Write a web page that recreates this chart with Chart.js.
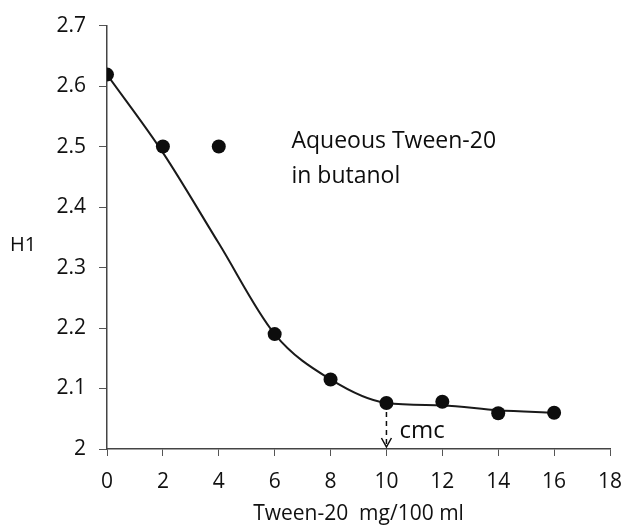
<!DOCTYPE html>
<html>
<head>
<meta charset="utf-8">
<script src="https://cdn.jsdelivr.net/npm/chart.js@4.4.0/dist/chart.umd.min.js"></script>
<style>
  html, body { margin: 0; padding: 0; background: #fff; }
  #wrap { width: 625px; height: 527px; }
</style>
</head>
<body>
<div id="wrap"><canvas id="chart" width="625" height="527"></canvas></div>
<script>
// measured points (H1 vs Tween-20 concentration)
const concentrations = [0, 2, 4, 6, 8, 10, 12, 14, 16];
const h1Values = [2.619, 2.5, 2.5, 2.19, 2.115, 2.076, 2.078, 2.059, 2.06];

// hand-drawn trend curve
const curveX = [0, 2, 4, 6, 8, 10, 12, 14, 16];
const curveY = [2.619, 2.49, 2.34, 2.19, 2.115, 2.076, 2.072, 2.064, 2.06];

const xTickLabels = ['0', '2', '4', '6', '8', '10', '12', '14', '16', '18'];
const yTickLabels = ['2', '2.1', '2.2', '2.3', '2.4', '2.5', '2.6', '2.7'];

const cmcAt = 10;
const noteLines = ['Aqueous Tween-20', 'in butanol'];

const FONT = "'Open Sans', sans-serif";
const INK = '#0d0d0d';

function toXY(xs, ys) {
    return xs.map((x, i) => ({ x: x, y: ys[i] }));
}

// extra text + cmc arrow
const extrasPlugin = {
    id: 'extras',
    afterDraw(chart) {
        const ctx = chart.ctx;
        const xs = chart.scales.x;
        const ys = chart.scales.y;
        const area = chart.chartArea;
        ctx.save();
        ctx.fillStyle = INK;
        ctx.textBaseline = 'alphabetic';
        ctx.textAlign = 'left';

        // y label, horizontal
        ctx.font = '20px ' + FONT;
        ctx.fillText('H1', area.left - 97, 251);

        // note
        ctx.font = '23px ' + FONT;
        ctx.fillText(noteLines[0], xs.getPixelForValue(6.6), ys.getPixelForValue(2.497));
        ctx.fillText(noteLines[1], xs.getPixelForValue(6.6), ys.getPixelForValue(2.44));

        // cmc dashed arrow
        const idx = concentrations.indexOf(cmcAt);
        const px = xs.getPixelForValue(cmcAt);
        const yTop = ys.getPixelForValue(h1Values[idx]) + 9;
        const yBot = area.bottom - 2;
        ctx.strokeStyle = INK;
        ctx.lineWidth = 1.5;
        ctx.setLineDash([5, 4]);
        ctx.beginPath();
        ctx.moveTo(px, yTop);
        ctx.lineTo(px, yBot);
        ctx.stroke();
        ctx.setLineDash([]);
        ctx.beginPath();
        ctx.moveTo(px - 5, yBot - 9);
        ctx.lineTo(px, yBot);
        ctx.lineTo(px + 5, yBot - 9);
        ctx.stroke();

        ctx.font = '24px ' + FONT;
        ctx.fillText('cmc', px + 13, area.bottom - 11);
        ctx.restore();
    }
};

new Chart(document.getElementById('chart'), {
    type: 'scatter',
    data: {
        datasets: [
            {
                label: 'H1',
                data: toXY(concentrations, h1Values),
                showLine: false,
                pointRadius: 7,
                pointBackgroundColor: INK,
                pointBorderColor: INK,
                pointBorderWidth: 0
            },
            {
                label: 'curve',
                data: toXY(curveX, curveY),
                showLine: true,
                borderColor: '#1a1a1a',
                borderWidth: 2,
                pointRadius: 0,
                cubicInterpolationMode: 'monotone'
            }
        ]
    },
    options: {
        responsive: false,
        animation: false,
        layout: {
            padding: { top: 23, right: 15, left: 0, bottom: 0 }
        },
        plugins: {
            legend: { display: false },
            tooltip: { enabled: false }
        },
        scales: {
            x: {
                type: 'linear',
                min: 0,
                max: 18,
                ticks: {
                    stepSize: 2,
                    color: '#111',
                    padding: 13,
                    font: { family: FONT, size: 21 },
                    callback: (v, i) => xTickLabels[i]
                },
                grid: {
                    drawOnChartArea: false,
                    drawTicks: true,
                    tickLength: 7,
                    color: '#555'
                },
                border: { color: '#444', width: 1.5 },
                title: {
                    display: true,
                    text: 'Tween-20  mg/100 ml',
                    color: '#111',
                    font: { family: FONT, size: 21 },
                    padding: { top: 4, bottom: 0 }
                },
                afterFit(scale) {
                    scale.height = 78;
                    scale.paddingRight = 12;
                }
            },
            y: {
                type: 'linear',
                min: 2,
                max: 2.7,
                ticks: {
                    stepSize: 0.1,
                    color: '#111',
                    padding: 13,
                    font: { family: FONT, size: 21 },
                    callback: (v, i) => yTickLabels[i]
                },
                grid: {
                    drawOnChartArea: false,
                    drawTicks: true,
                    tickLength: 8,
                    color: '#555'
                },
                border: { color: '#444', width: 1.5 },
                afterFit(scale) { scale.width = 107; }
            }
        }
    },
    plugins: [extrasPlugin]
});
</script>
</body>
</html>
